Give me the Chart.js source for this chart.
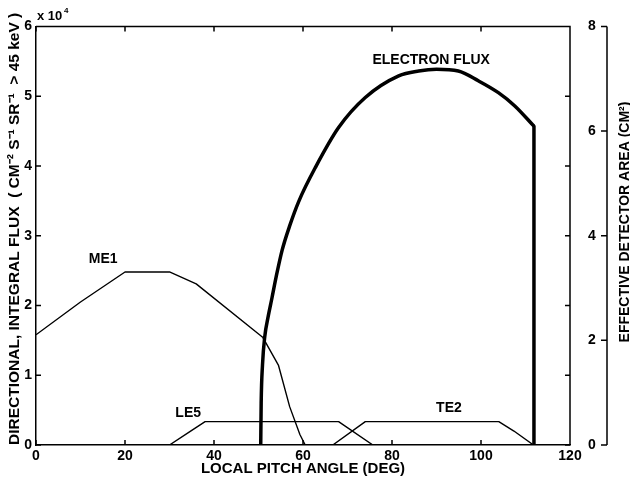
<!doctype html>
<html lang="en">
<head>
<meta charset="utf-8">
<title>Electron flux and detector areas vs local pitch angle</title>
<script src="https://cdn.jsdelivr.net/npm/chart.js@4.4.0/dist/chart.umd.min.js"></script>
<style>
  body { margin: 0; background: #fff; }
  canvas { display: block; }
</style>
</head>
<body>
<canvas id="chart" width="630" height="485"></canvas>
<script>
// values: angle in degrees, flux in units of 1e4
// the last point of the flux series is the vertical cut-off at ~112 deg
var fluxAngle = [50.5, 50.6, 50.9, 51.4, 52.2, 53.0, 54.0, 55.3, 57.0, 59.1, 62.8, 68.0, 74.0, 81.5, 86.0, 90.0, 94.9, 99.4, 103.9, 107.6, 111.9, 111.9];
var fluxValue = [0, 0.6, 1.15, 1.55, 1.85, 2.1, 2.42, 2.79, 3.14, 3.5, 3.98, 4.55, 4.98, 5.29, 5.36, 5.385, 5.36, 5.22, 5.05, 4.86, 4.57, 0];

var me1Angle = [0, 10, 20, 30, 36, 51, 54.5, 57, 59.3, 60.5];
var me1Value = [1.58, 2.05, 2.48, 2.48, 2.31, 1.54, 1.14, 0.55, 0.15, 0];

var le5Angle = [30, 35, 38, 68, 75.7];
var le5Value = [0, 0.21, 0.335, 0.335, 0];

var te2Angle = [66.7, 74, 104, 107.4, 111.8];
var te2Value = [0, 0.335, 0.335, 0.2, 0];

var angleTicks = [0, 20, 40, 60, 80, 100, 120];
var fluxTicks = [0, 1, 2, 3, 4, 5, 6];
var areaTicks = [0, 2, 4, 6, 8];

function pts(xs, ys, from, to) {
    var out = [];
    for (var i = from; i < to; i++) out.push({ x: xs[i], y: ys[i] });
    return out;
}

var FONT = 'Liberation Sans, Arial, sans-serif';
Chart.defaults.font.family = FONT;
Chart.defaults.font.weight = 'bold';
Chart.defaults.color = '#000';

// box, inward ticks, the detector-area axis and the text inside the plot
var decor = {
    id: 'decor',
    afterDraw: function (chart) {
        var ctx = chart.ctx, a = chart.chartArea;
        var sx = chart.scales.x, sy = chart.scales.y, sy2 = chart.scales.y2;
        ctx.save();
        ctx.strokeStyle = '#000';
        ctx.lineWidth = 1.5;
        ctx.beginPath();
        ctx.moveTo(a.left, a.top); ctx.lineTo(a.right, a.top); ctx.lineTo(a.right, a.bottom);
        sx.ticks.forEach(function (t) {
            var px = sx.getPixelForValue(t.value);
            ctx.moveTo(px, a.bottom); ctx.lineTo(px, a.bottom - 5);
            ctx.moveTo(px, a.top); ctx.lineTo(px, a.top + 5);
        });
        sy.ticks.forEach(function (t) {
            var py = sy.getPixelForValue(t.value);
            ctx.moveTo(a.left, py); ctx.lineTo(a.left + 5, py);
            ctx.moveTo(a.right, py); ctx.lineTo(a.right - 5, py);
        });
        var ax = 607;
        ctx.moveTo(ax, sy2.top); ctx.lineTo(ax, sy2.bottom);
        sy2.ticks.forEach(function (t) {
            var py = sy2.getPixelForValue(t.value);
            ctx.moveTo(ax - 6, py); ctx.lineTo(ax, py);
        });
        ctx.stroke();

        ctx.fillStyle = '#000';
        ctx.textBaseline = 'alphabetic';
        ctx.textAlign = 'left';
        ctx.font = 'bold 13px ' + FONT;
        ctx.fillText('x 10', 37, 20);
        ctx.font = 'bold 8px ' + FONT;
        ctx.fillText('4', 64, 13);

        ctx.font = 'bold 14px ' + FONT;
        ctx.textAlign = 'center';
        ctx.textBaseline = 'middle';
        [['ME1', 15.1, 2.67], ['LE5', 34.2, 0.46], ['TE2', 92.8, 0.53], ['ELECTRON FLUX', 88.8, 5.52]].forEach(function (l) {
            ctx.fillText(l[0], sx.getPixelForValue(l[1]), sy.getPixelForValue(l[2]));
        });

        ctx.translate(625, 222);
        ctx.rotate(-Math.PI / 2);
        ctx.fillText('EFFECTIVE DETECTOR AREA (CM\u00B2)', 0, 0);
        ctx.restore();
    }
};

var line = { fill: false, pointRadius: 0, borderColor: '#000', tension: 0, borderJoinStyle: 'round', borderCapStyle: 'butt' };
var n = fluxAngle.length;

new Chart(document.getElementById('chart'), {
    type: 'line',
    data: {
        datasets: [
            Object.assign({}, line, { label: 'ELECTRON FLUX', data: pts(fluxAngle, fluxValue, 0, n - 1), borderWidth: 3.5, cubicInterpolationMode: 'monotone', tension: 0.4 }),
            Object.assign({}, line, { label: 'ELECTRON FLUX cut-off', data: pts(fluxAngle, fluxValue, n - 2, n), borderWidth: 3.5 }),
            Object.assign({}, line, { label: 'ME1', data: pts(me1Angle, me1Value, 0, me1Angle.length), borderWidth: 1.4 }),
            Object.assign({}, line, { label: 'LE5', data: pts(le5Angle, le5Value, 0, le5Angle.length), borderWidth: 1.4 }),
            Object.assign({}, line, { label: 'TE2', data: pts(te2Angle, te2Value, 0, te2Angle.length), borderWidth: 1.4 })
        ]
    },
    options: {
        responsive: false,
        animation: false,
        layout: { padding: { top: 25, left: 0, right: 0, bottom: 0 } },
        plugins: { legend: { display: false }, tooltip: { enabled: false } },
        scales: {
            x: {
                type: 'linear', min: 0, max: 120,
                afterBuildTicks: function (s) { s.ticks = angleTicks.map(function (v) { return { value: v }; }); },
                afterFit: function (s) { s.height = 40; },
                grid: { display: false, drawTicks: false },
                border: { display: true, color: '#000', width: 1.5 },
                ticks: { font: { size: 14, weight: 'bold' }, padding: 3, maxRotation: 0 },
                title: { display: true, text: 'LOCAL PITCH ANGLE (DEG)', font: { size: 15, weight: 'bold' }, padding: { top: 0, bottom: 7 } }
            },
            y: {
                type: 'linear', min: 0, max: 6, position: 'left',
                afterBuildTicks: function (s) { s.ticks = fluxTicks.map(function (v) { return { value: v }; }); },
                afterFit: function (s) { s.width = 36; },
                grid: { display: false, drawTicks: false },
                border: { display: true, color: '#000', width: 1.5 },
                ticks: { font: { size: 14, weight: 'bold' }, padding: 4 },
                title: { display: true, align: 'start', text: 'DIRECTIONAL, INTEGRAL FLUX  ( CM\u207B\u00B2 S\u207B\u00B9 SR\u207B\u00B9  > 45 keV )', font: { size: 15.5, weight: 'bold' }, padding: { top: 5, bottom: 0 } }
            },
            y2: {
                type: 'linear', min: 0, max: 8, position: 'right',
                afterBuildTicks: function (s) { s.ticks = areaTicks.map(function (v) { return { value: v }; }); },
                afterFit: function (s) { s.width = 60; },
                grid: { display: false, drawTicks: false },
                border: { display: false },
                ticks: { font: { size: 14, weight: 'bold' }, padding: 18 }
            }
        }
    },
    plugins: [decor]
});
</script>
</body>
</html>
